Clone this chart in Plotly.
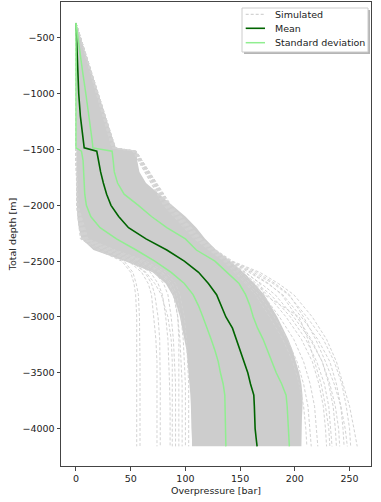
import plotly.graph_objects as go

# ---- data ----
depth = [-366, -600, -800, -1000, -1200, -1400, -1485, -1515, -1600, -1700,
         -1800, -1900, -2000, -2100, -2200, -2300, -2400, -2500, -2600, -2700,
         -2800, -2900, -3000, -3100, -3200, -3300, -3400, -3500, -3600, -3700,
         -3800, -3900, -4000, -4100, -4159]

mean_op = [0, 0.8, 1.5, 2.5, 4, 6, 7.5, 19, 20.5, 22.5,
           25, 28, 32, 39, 48, 64, 83, 99, 112, 121,
           128.5, 133, 137, 143, 146.5, 150, 154, 157, 159.5, 162.5,
           163, 163.3, 163.7, 164.8, 165.5]

std_low = [0, 0, 0, 0, 0, 0, 0, 5, 6.5, 7,
           7.5, 8, 9.5, 13.5, 22, 37, 55, 72, 87, 99,
           107, 112, 116, 120, 123.5, 127, 130, 132, 134.5, 136,
           136.3, 136.5, 136.7, 136.9, 137]

std_high = [0, 3, 6, 9, 12, 14.5, 15.5, 33, 34, 35,
            38, 44, 57, 69, 83, 100, 110, 127, 138, 149,
            155, 159, 162, 166, 171, 175, 179, 183, 188, 192,
            193, 193.5, 194, 194.5, 195]

# envelope of the densely overlapping simulated profiles
core_low = [0, 0, 0, 0, 0, 0, 0, 0, 0, 0,
            0.3, 0.5, 0.8, 1.2, 2.5, 5, 16, 45, 70, 82,
            88, 92, 95, 97, 99, 101, 102, 103, 104, 104.5,
            105, 105, 105.5, 106, 106]
core_high = [0, 7.5, 14, 20.5, 27, 33.5, 36.5, 55.5, 56, 58,
             64, 76, 88, 100, 110, 118, 128, 141, 153, 163,
             172, 178, 184, 189, 194, 198, 201, 204, 206, 207,
             207, 206.5, 206, 206, 206]

# individual simulated profiles that stand out from the dense core
sim_depth = [-366, -1485, -1515, -2000, -2300, -2400, -2500, -2600, -2700,
             -2800, -3000, -3200, -3400, -3600, -3800, -4000, -4159]
sim_l1 = [0, 0, 0, 0.5, 4, 20, 42, 50, 53, 54.5, 55.5, 55.5, 55.5, 55.5, 55.5, 55.5, 55.5]
sim_l2 = [0, 0, 0, 0.5, 5, 22, 44, 52, 55, 57, 58, 58.5, 58.5, 58.5, 58.5, 58.5, 58.5]
sim_l3 = [0, 0, 0, 1, 6, 25, 48, 60, 66, 69, 71, 73, 74, 74, 74, 74, 74]
sim_l4 = [0, 0, 0, 1, 6, 26, 50, 63, 69, 72, 75, 76.5, 77, 77, 77, 77, 77]
sim_l5 = [0, 0, 0, 1, 7, 28, 52, 68, 75, 79, 82, 84, 85, 85.5, 86, 86, 86]
sim_l6 = [0, 0, 0, 1, 8, 30, 55, 72, 80, 84, 87, 89, 90, 91, 91, 91, 91]
sim_l7 = [0, 0, 0, 1.5, 9, 32, 58, 76, 85, 89, 93, 95, 96, 97, 97, 97, 97]
sim_l8 = [0, 0, 0, 1.5, 10, 34, 61, 79, 88, 92, 96, 98, 99, 100, 100, 100, 100]
sim_l9 = [0, 0, 0, 1, 7, 27, 50, 64, 72, 78, 84, 87, 88, 88, 88, 88, 88]
sim_l10 = [0, 0, 0, 1.5, 9, 33, 60, 78, 86, 90, 93, 94, 94, 94, 94, 94, 94]
sim_l11 = [0, 0, 0, 2, 11, 36, 64, 82, 91, 95, 99, 101, 102, 103, 103, 103, 103]
sim_r1 = [0, 36, 55, 87, 115, 128, 143, 168, 185, 199, 216, 229, 238, 244, 250, 254, 257]
sim_r2 = [0, 36, 55, 86, 114, 127, 141, 162, 180, 194, 211, 226, 236, 243, 247, 250, 251]
sim_r3 = [0, 35, 54, 85, 113, 126, 140, 158, 175, 189, 206, 221, 232, 238, 242, 244, 245]
sim_r4 = [0, 35, 54, 84, 112, 125, 139, 154, 169, 182, 199, 214, 225, 231, 235, 237, 238]
sim_r5 = [0, 34, 53, 83, 111, 124, 138, 150, 163, 175, 192, 206, 216, 222, 226, 228, 229]
sim_r6 = [0, 34, 53, 82, 110, 123, 137, 148, 160, 171, 186, 199, 208, 214, 218, 220, 221]
sim_r7 = [0, 33, 52, 81, 109, 122, 136, 146, 157, 167, 181, 193, 202, 208, 212, 214, 215]
sim_r8 = [0, 33, 52, 80, 108, 121, 135, 145, 155, 164, 177, 189, 198, 204, 208, 210, 211]
sim_r9 = [0, 35, 54, 85, 113, 126, 141, 160, 176, 188, 202, 215, 225, 232, 237, 240, 241]
sim_r10 = [0, 36, 55, 86, 114, 127, 142, 165, 182, 195, 208, 219, 228, 236, 242, 246, 248]
sim_r11 = [0, 34, 53, 83, 111, 124, 139, 152, 166, 178, 196, 210, 220, 227, 231, 233, 234]
sim_r12 = [0, 35, 54, 84, 112, 125, 140, 155, 168, 172, 204, 212, 218, 224, 228, 231, 232]

sim_profiles = [sim_l1, sim_l2, sim_l3, sim_l4, sim_l5, sim_l6, sim_l7, sim_l8,
                sim_l9, sim_l10, sim_l11,
                sim_r1, sim_r2, sim_r3, sim_r4, sim_r5, sim_r6, sim_r7, sim_r8,
                sim_r9, sim_r10, sim_r11, sim_r12]

x_ticks = [0, 50, 100, 150, 200, 250]
y_ticks = [-500, -1000, -1500, -2000, -2500, -3000, -3500, -4000]

legend_labels = ["Simulated", "Mean", "Standard deviation"]

# ---- figure ----
FONT = "DejaVu Sans"
SIM_COLOR = "#d3d3d3"
MEAN_COLOR = "#006400"
STD_COLOR = "#90ee90"
W, H = 381, 502
ML, MR, MT, MB = 61, 10, 2, 36
PW, PH = W - ML - MR, H - MT - MB


def px_x(px):
    return (px - ML) / PW


def px_y(py):
    return (H - MB - py) / PH


fig = go.Figure()

# dense band of overlapping simulated profiles
fig.add_trace(go.Scatter(
    x=core_low + core_high[::-1],
    y=depth + depth[::-1],
    fill="toself", fillcolor="#cdcdcd",
    line=dict(width=0), mode="lines",
    hoverinfo="skip", showlegend=False))

for i, prof in enumerate(sim_profiles):
    fig.add_trace(go.Scatter(
        x=prof, y=sim_depth, mode="lines",
        line=dict(color=SIM_COLOR, width=1, dash="3px,2px"),
        name="Simulated", showlegend=False))

fig.add_trace(go.Scatter(
    x=mean_op, y=depth, mode="lines",
    line=dict(color=MEAN_COLOR, width=1.6), name="Mean", showlegend=False))

fig.add_trace(go.Scatter(
    x=std_low, y=depth, mode="lines",
    line=dict(color=STD_COLOR, width=1.5),
    name="Standard deviation", showlegend=False))
fig.add_trace(go.Scatter(
    x=std_high, y=depth, mode="lines",
    line=dict(color=STD_COLOR, width=1.5),
    name="Standard deviation", showlegend=False))

# ---- matplotlib-style legend box (shadow, frame, samples, labels) ----
box_l, box_r, box_t, box_b = 242, 368, 8, 52
shapes = [
    dict(type="rect", xref="paper", yref="paper", layer="above",
         x0=px_x(box_l + 2), x1=px_x(box_r + 2), y0=px_y(box_b + 2), y1=px_y(box_t + 2),
         fillcolor="rgba(120,120,120,0.55)", line=dict(width=0)),
    dict(type="rect", xref="paper", yref="paper", layer="above",
         x0=px_x(box_l), x1=px_x(box_r), y0=px_y(box_b), y1=px_y(box_t),
         fillcolor="white", line=dict(color="#cccccc", width=1)),
]
row_y = [14.3, 28.3, 42.7]
sample_styles = [dict(color="#c8c8c8", width=1, dash="3px,2px"),
                 dict(color=MEAN_COLOR, width=1.6),
                 dict(color=STD_COLOR, width=1.5)]
annotations = []
for label, ry, st in zip(legend_labels, row_y, sample_styles):
    shapes.append(dict(type="line", xref="paper", yref="paper", layer="above",
                       x0=px_x(245.7), x1=px_x(265), y0=px_y(ry), y1=px_y(ry),
                       line=st))
    annotations.append(dict(text=label, xref="paper", yref="paper",
                            x=px_x(272.5), y=px_y(ry), xanchor="left",
                            yanchor="middle", showarrow=False,
                            font=dict(family=FONT, size=9.5, color="#222")))

axis_common = dict(
    showgrid=False, zeroline=False, showline=True, mirror=True,
    linecolor="#444", linewidth=1, ticks="outside", ticklen=3.5,
    tickcolor="#444", tickwidth=1,
    tickfont=dict(family=FONT, size=9.5, color="#222"),
)

fig.update_layout(
    width=W, height=H,
    margin=dict(l=ML, r=MR, t=MT, b=MB),
    paper_bgcolor="white", plot_bgcolor="white",
    font=dict(family=FONT, size=9.5, color="#222"),
    showlegend=False,
    xaxis=dict(range=[-13.7, 269.6], tickvals=x_ticks,
               title=dict(text="Overpressure [bar]", standoff=4,
                          font=dict(family=FONT, size=9.5, color="#222")),
               **axis_common),
    yaxis=dict(range=[-4335, -178], tickvals=y_ticks,
               title=dict(text="Total depth [m]", standoff=4,
                          font=dict(family=FONT, size=9.5, color="#222")),
               **axis_common),
    shapes=shapes,
    annotations=annotations,
)

fig.write_html("out.html")
